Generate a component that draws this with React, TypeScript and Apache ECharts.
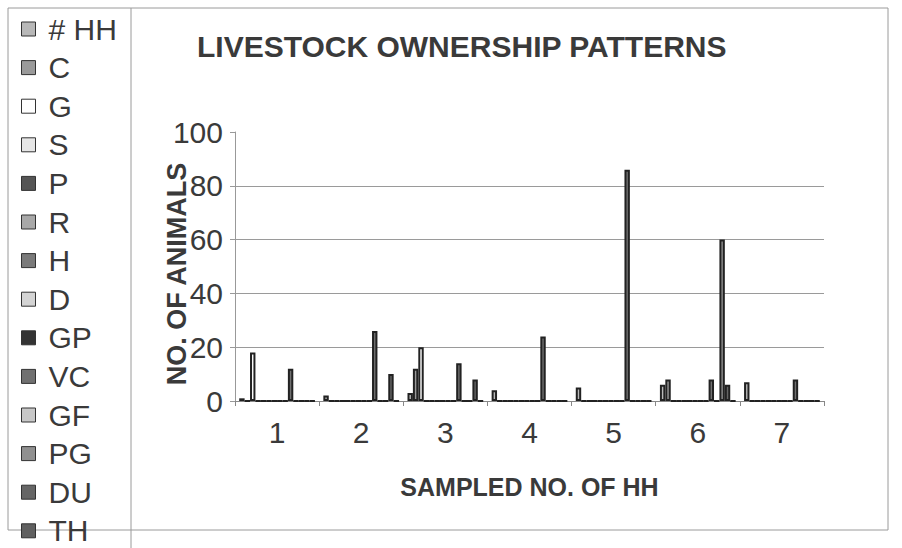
import React, { useEffect, useRef } from "react";
import * as echarts from "echarts";

const categories = ["1", "2", "3", "4", "5", "6", "7"];
const yTicks = { min: 0, max: 100, interval: 20 };

const HH = [1, 2, 3, 4, 5, 6, 7];
const C = [0, 0, 12, 0, 0, 8, 0];
const G = [18, 0, 20, 0, 0, 0, 0];
const S = [0, 0, 0, 0, 0, 0, 0];
const P = [0, 0, 0, 0, 0, 0, 0];
const R = [0, 0, 0, 0, 0, 0, 0];
const H = [0, 0, 0, 0, 0, 0, 0];
const D = [0, 0, 0, 0, 0, 0, 0];
const GP = [0, 0, 0, 0, 0, 0, 0];
const VC = [12, 26, 14, 24, 86, 8, 8];
const GF = [0, 0, 0, 0, 0, 0, 0];
const PG = [0, 0, 0, 0, 0, 60, 0];
const DU = [0, 10, 8, 0, 0, 6, 0];
const TH = [0, 0, 0, 0, 0, 0, 0];

const seriesNames = ["# HH", "C", "G", "S", "P", "R", "H", "D", "GP", "VC", "GF", "PG", "DU", "TH"];
const seriesValues = [HH, C, G, S, P, R, H, D, GP, VC, GF, PG, DU, TH];
const seriesFills = [
  "#b8b8b8", "#9a9a9a", "#ffffff", "#e6e6e6", "#555555", "#a8a8a8", "#7a7a7a",
  "#d4d4d4", "#333333", "#707070", "#c8c8c8", "#909090", "#666666", "#606060",
];

export default function App() {
  const ref = useRef<HTMLDivElement>(null);
  useEffect(() => {
    if (!ref.current) return;
    const chart = echarts.init(ref.current, undefined, { renderer: "svg" });
    const textColor = "#3a3a3a";
    const font = "Liberation Sans, Arial, sans-serif";
    chart.setOption({
      animation: false,
      backgroundColor: "#ffffff",
      textStyle: { fontFamily: font },
      title: {
        text: "LIVESTOCK OWNERSHIP PATTERNS",
        left: 197,
        top: 31,
        padding: 0,
        textStyle: { fontSize: 30, fontWeight: "bold", color: textColor, fontFamily: font },
      },
      legend: {
        orient: "vertical",
        left: 21,
        top: 14,
        padding: 0,
        itemWidth: 14,
        itemHeight: 14,
        itemGap: 8.6,
        icon: "rect",
        selectedMode: false,
        textStyle: {
          fontSize: 30,
          color: textColor,
          fontFamily: font,
          padding: [0, 0, 0, 8],
        },
        itemStyle: { borderColor: "#333", borderWidth: 1 },
      },
      grid: { left: 235, right: 78, top: 132, bottom: 147, containLabel: false },
      xAxis: {
        type: "category",
        data: categories,
        axisLine: { lineStyle: { color: "#888", width: 1 } },
        axisTick: { show: true, length: 5, lineStyle: { color: "#888" } },
        axisLabel: { fontSize: 30, color: textColor, margin: 16, fontFamily: font },
        name: "SAMPLED NO. OF HH",
        nameLocation: "middle",
        nameGap: 73,
        nameTextStyle: { fontSize: 25, fontWeight: "bold", color: textColor, fontFamily: font },
      },
      yAxis: {
        type: "value",
        min: yTicks.min,
        max: yTicks.max,
        interval: yTicks.interval,
        axisLine: { show: true, lineStyle: { color: "#999", width: 1 } },
        axisTick: { show: true, length: 5, lineStyle: { color: "#999" } },
        axisLabel: { fontSize: 30, color: textColor, margin: 12, fontFamily: font },
        splitLine: { show: true, showMaxLine: false, showMinLine: false, lineStyle: { color: "#9a9a9a", width: 1 } },
      },
      graphic: [
        {
          type: "rect",
          shape: { x: 8, y: 8, width: 880, height: 522 },
          style: { fill: "none", stroke: "#9a9a9a", lineWidth: 1 },
          silent: true,
        },
        {
          type: "line",
          shape: { x1: 131, y1: 8, x2: 131, y2: 548 },
          style: { stroke: "#9a9a9a", lineWidth: 1 },
          silent: true,
        },
        {
          type: "text",
          x: 177,
          y: 274,
          rotation: Math.PI / 2,
          style: {
            text: "NO. OF ANIMALS",
            fontSize: 27,
            fontWeight: "bold",
            fill: textColor,
            fontFamily: font,
            align: "center",
            verticalAlign: "middle",
          },
          silent: true,
        },
      ],
      series: seriesNames.map((name, i) => ({
        name,
        type: "bar",
        data: seriesValues[i],
        barGap: "0%",
        barCategoryGap: "10%",
        itemStyle: { color: seriesFills[i], borderColor: "#222", borderWidth: 2 },
      })),
    });
    return () => chart.dispose();
  }, []);
  return (
    <div
      ref={ref}
      style={{ position: "fixed", left: 0, top: 0, width: 902, height: 548, background: "#fff" }}
    />
  );
}
